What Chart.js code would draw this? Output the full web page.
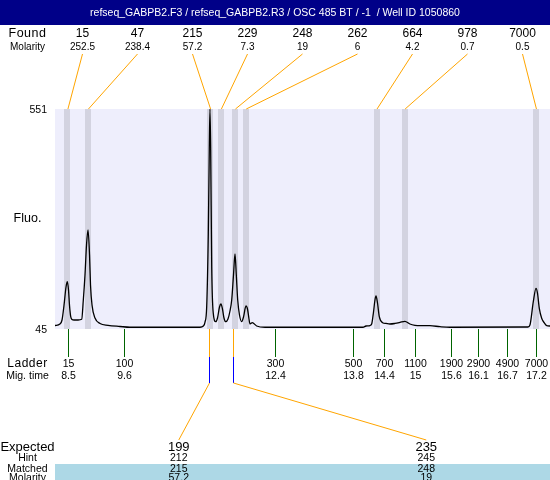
<!DOCTYPE html>
<html>
<head>
<meta charset="utf-8">
<title>GABPB2 electropherogram</title>
<script src="https://cdn.jsdelivr.net/npm/chart.js@4/dist/chart.umd.min.js"></script>
<style>
  html, body { margin: 0; padding: 0; background: #fff; }
  #wrap { width: 550px; height: 480px; }
</style>
</head>
<body>
<div id="wrap"><canvas id="chart" width="550" height="480"></canvas></div>
<script>
// ---------- data ----------
const TITLE = "refseq_GABPB2.F3 / refseq_GABPB2.R3 / OSC 485 BT / -1  / Well ID 1050860";

// trace: migration time (s) / fluorescence
const traceTime = [
  8.28, 8.37, 8.41, 8.447, 8.484, 8.508, 8.53, 8.548, 8.571, 8.595, 8.632, 8.706,
  8.774, 8.804, 8.835, 8.863, 8.891, 8.919, 8.937, 8.965, 9.02, 9.113, 9.261, 9.483,
  9.668, 10.963, 11.024, 11.056, 11.087, 11.117, 11.135, 11.148, 11.161, 11.18, 11.209,
  11.254, 11.287, 11.324, 11.351, 11.379, 11.407, 11.439, 11.481, 11.518, 11.55, 11.583,
  11.611, 11.635, 11.661, 11.694, 11.735, 11.768, 11.814, 11.842, 11.87, 11.888, 11.931,
  12.012, 12.166, 13.979, 14.035, 14.109, 14.14, 14.174, 14.201, 14.22, 14.248, 14.281,
  14.344, 14.404, 14.478, 14.571, 14.663, 14.755, 14.848, 14.941, 15.034, 15.219, 15.404,
  15.589, 17.032, 17.069, 17.131, 17.181, 17.208, 17.242, 17.286, 17.329, 17.379, 17.44,
];
const traceFluo = [
  53, 56.5, 65.7, 100, 141.6, 153.8, 134.7, 100, 73.3, 66.9, 65.7, 65.7,
  67.3, 111.7, 169, 238, 272.7, 215.5, 146, 100, 70.3, 57.7, 53.5, 50.8,
  49, 49, 51.9, 61, 96.3, 265.8, 456.7, 551, 456.7, 188.3, 81.1,
  61.8, 70.3, 95.6, 102.5, 91, 70.3, 61.8, 68, 86.4, 111.7, 169.2,
  217.5, 169.2, 111.7, 77.2, 61.8, 72.6, 97.9, 91, 68, 56.5, 59.5,
  51.9, 49, 49, 51.9, 53, 56.5, 84.1, 111.7, 120.9, 104.8, 73.3,
  59.5, 57.7, 56.5, 57.7, 60, 62.7, 56.5, 53.5, 52.6, 52.6, 50.3,
  49, 49.6, 54.2, 107.8, 138.6, 127.8, 92.6, 69.6, 60, 52.6, 51.9,
];

const fluoMin = 45;
const fluoMax = 551;
const timeMin = 8.28;
const timeMax = 17.44;

// found peaks
const foundSize = [15, 47, 215, 229, 248, 262, 664, 978, 7000];
const foundMolarity = ["252.5", "238.4", "57.2", "7.3", "19", "6", "4.2", "0.7", "0.5"];
const foundTime = [8.51, 8.89, 11.15, 11.35, 11.61, 11.81, 14.23, 14.75, 17.18];

// ladder
const ladderSize = [15, 100, 300, 500, 700, 1100, 1900, 2900, 4900, 7000];
const ladderTime = [8.52, 9.55, 12.36, 13.8, 14.36, 14.95, 15.6, 16.1, 16.65, 17.19];
const ladderTimeLabel = ["8.5", "9.6", "12.4", "13.8", "14.4", "15", "15.6", "16.1", "16.7", "17.2"];

// expected products
const expectedSize = [199, 235];
const hintSize = [212, 245];
const matchedSize = [215, 248];
const matchedMolarity = ["57.2", "19"];

// ---------- helpers ----------
const FONT = '"Liberation Sans", Arial, sans-serif';
const C = {
  header: "#000088",
  plotBg: "#eeeefc",
  band: "#d3d3e0",
  orange: "#ffa500",
  green: "#006400",
  blue: "#0000ff",
  table: "#add8e6",
};

function txt(ctx, s, x, y, size, align = "center", color = "#000", spacing = "0px") {
  ctx.font = `${size}px ${FONT}`;
  ctx.fillStyle = color;
  ctx.textAlign = align;
  ctx.textBaseline = "middle";
  ctx.letterSpacing = spacing;
  ctx.fillText(String(s), x, y);
  ctx.letterSpacing = "0px";
}
function seg(ctx, x1, y1, x2, y2, color) {
  ctx.beginPath();
  ctx.strokeStyle = color;
  ctx.lineWidth = 1;
  ctx.moveTo(x1, y1);
  ctx.lineTo(x2, y2);
  ctx.stroke();
}
const snap = (v) => Math.round(v) + 0.5;

// ---------- plugin ----------
const gelPlugin = {
  id: "gel",
  beforeDraw(chart) {
    const { ctx, chartArea: a } = chart;
    ctx.save();
    ctx.fillStyle = "#fff";
    ctx.fillRect(0, 0, chart.width, chart.height);
    ctx.fillStyle = C.header;
    ctx.fillRect(0, 0, chart.width, 25);
    ctx.fillStyle = C.plotBg;
    ctx.fillRect(a.left, a.top, a.right - a.left, a.bottom - a.top);
    ctx.restore();
  },
  beforeDatasetsDraw(chart) {
    const { ctx, chartArea: a, scales } = chart;
    ctx.save();
    ctx.fillStyle = C.band;
    foundTime.forEach((t) => {
      const x = scales.x.getPixelForValue(t);
      ctx.fillRect(Math.round(x) - 3, a.top, 6, a.bottom - a.top);
    });
    ctx.restore();
  },
  afterDraw(chart) {
    const { ctx, chartArea: a, scales } = chart;
    const xs = scales.x, ys = scales.y;
    const w = chart.width;
    const labX = a.left / 2;
    ctx.save();

    // title
    txt(ctx, TITLE, w / 2, 13, 10.5, "center", "#fff");

    // found row
    txt(ctx, "Found", labX, 34, 12.5, "center", "#000", "0.5px");
    txt(ctx, "Molarity", labX, 47, 10);
    const slot = (a.right - a.left) / foundSize.length;
    foundSize.forEach((s, i) => {
      const sx = a.left + slot * (i + 0.5);
      txt(ctx, s, sx, 34, 12);
      txt(ctx, foundMolarity[i], sx, 47, 10);
      seg(ctx, sx, 54, xs.getPixelForValue(foundTime[i]) + 0.5, a.top, C.orange);
    });

    // y labels
    txt(ctx, fluoMax, 47, ys.getPixelForValue(fluoMax) + 1, 10.5, "right");
    txt(ctx, fluoMin, 47, ys.getPixelForValue(fluoMin) + 1, 10.5, "right");
    txt(ctx, "Fluo.", labX, (a.top + a.bottom) / 2, 12.5);

    // ladder
    const tickEnd = a.bottom + 28;
    ladderSize.forEach((s, i) => {
      const x = snap(xs.getPixelForValue(ladderTime[i]));
      seg(ctx, x, a.bottom, x, tickEnd, C.green);
      txt(ctx, s, x, 364, 10.5);
      txt(ctx, ladderTimeLabel[i], x, 376, 10.5);
    });
    txt(ctx, "Ladder", labX, 364, 12, "center", "#000", "0.5px");
    txt(ctx, "Mig. time", labX, 376, 10.5);

    // matched peaks -> expected products
    const col = (a.right - a.left) / expectedSize.length;
    matchedSize.forEach((m, i) => {
      const k = foundSize.indexOf(m);
      const x = snap(xs.getPixelForValue(foundTime[k]) - 1.5);
      const cx = a.left + col * (i + 0.5);
      seg(ctx, x, a.bottom, x, tickEnd, C.orange);
      seg(ctx, x, tickEnd, x, tickEnd + 26, C.blue);
      seg(ctx, x, tickEnd + 26, cx, 440, C.orange);
    });

    // table
    ctx.fillStyle = C.table;
    ctx.fillRect(a.left, 464, w - a.left, 16);
    txt(ctx, "Expected", labX, 447, 13);
    txt(ctx, "Hint", labX, 458.5, 10.5);
    txt(ctx, "Matched", labX, 469, 10.5);
    txt(ctx, "Molarity", labX, 478.5, 10.5);
    expectedSize.forEach((e, i) => {
      const cx = a.left + col * (i + 0.5);
      txt(ctx, e, cx, 447, 13);
      txt(ctx, hintSize[i], cx, 458.5, 10.5);
      txt(ctx, matchedSize[i], cx, 469, 10.5);
      txt(ctx, matchedMolarity[i], cx, 478.5, 10.5);
    });
    ctx.restore();
  },
};

// ---------- chart ----------
document.addEventListener("DOMContentLoaded", () => {
  const points = traceTime.map((t, i) => ({ x: t, y: traceFluo[i] }));
  new Chart(document.getElementById("chart").getContext("2d"), {
    type: "line",
    data: {
      datasets: [
        {
          data: points,
          borderColor: "#000",
          borderWidth: 1.3,
          pointRadius: 0,
          cubicInterpolationMode: "monotone",
          fill: false,
        },
      ],
    },
    options: {
      responsive: false,
      animation: false,
      events: [],
      layout: { padding: { left: 55, right: 0, top: 109, bottom: 151 } },
      scales: {
        x: { type: "linear", min: timeMin, max: timeMax, display: false },
        y: { min: fluoMin, max: fluoMax, display: false },
      },
      plugins: { legend: { display: false }, tooltip: { enabled: false } },
    },
    plugins: [gelPlugin],
  });
});
</script>
</body>
</html>
